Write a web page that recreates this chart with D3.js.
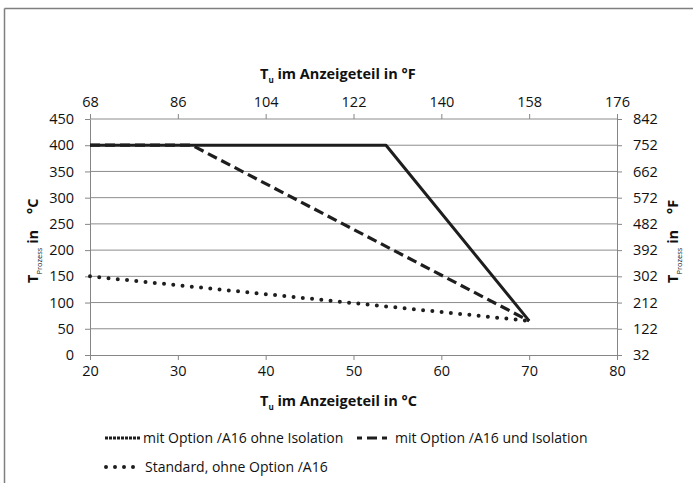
<!DOCTYPE html>
<html><head><meta charset="utf-8">
<script src="https://cdn.jsdelivr.net/npm/d3@7"></script>
<style>
body{margin:0;background:#fff;}
text{font-family:"Open Sans",sans-serif;fill:#111;}
</style></head>
<body><svg id="c" width="693" height="483"></svg>
<script>
// ---- data ----
const xTicksC = [20, 30, 40, 50, 60, 70, 80];
const xTicksF = [68, 86, 104, 122, 140, 158, 176];
const yTicksC = [0, 50, 100, 150, 200, 250, 300, 350, 400, 450];
const yTicksF = [32, 122, 212, 302, 392, 482, 572, 662, 752, 842];
const seriesNames = ["mit Option /A16 ohne Isolation", "mit Option /A16 und Isolation", "Standard, ohne Option /A16"];
const solidX = [20, 53.7, 70];
const solidY = [400, 400, 65];
const dashedX = [20, 31.6, 70];
const dashedY = [400, 400, 65];
const dottedX = [20, 70];
const dottedY = [150, 65];

const svg = d3.select("#c");
const L = 90, R = 617, T = 119, B = 355;
const x = d3.scaleLinear().domain([20, 80]).range([L, R]);
const xF = d3.scaleLinear().domain([68, 176]).range([L, R]);
const y = d3.scaleLinear().domain([0, 450]).range([B, T]);
const yF = d3.scaleLinear().domain([32, 842]).range([B, T]);

// frame
svg.append("line").attr("x1",4.5).attr("x2",693).attr("y1",8.5).attr("y2",8.5).attr("stroke","#7f7f7f").attr("stroke-width",1.5);
svg.append("line").attr("x1",4.5).attr("x2",4.5).attr("y1",8.5).attr("y2",483).attr("stroke","#7f7f7f").attr("stroke-width",1.5);

// gridlines
svg.append("g").selectAll("line").data(yTicksC.slice(1)).join("line")
  .attr("x1",L).attr("x2",R).attr("y1",d=>y(d)).attr("y2",d=>y(d))
  .attr("stroke","#8c8c8c").attr("stroke-width",1);

function styleAxis(g){
  g.select(".domain").attr("stroke","#868686");
  g.selectAll(".tick line").attr("stroke","#868686");
  g.selectAll(".tick text").attr("font-size",14.5).attr("fill","#111").attr("font-family","'Open Sans',sans-serif");
}
svg.append("g").attr("transform",`translate(0,${B})`)
  .call(d3.axisBottom(x).tickValues(xTicksC).tickSize(5).tickSizeOuter(0).tickPadding(6)).call(styleAxis);
svg.append("g").attr("transform",`translate(0,${T})`)
  .call(d3.axisTop(xF).tickValues(xTicksF).tickSize(5).tickSizeOuter(0).tickPadding(7)).call(styleAxis)
  .select(".domain").remove();
svg.append("g").attr("transform",`translate(${L},0)`)
  .call(d3.axisLeft(y).tickValues(yTicksC).tickSize(5).tickSizeOuter(0).tickPadding(11)).call(styleAxis);
svg.append("g").attr("transform",`translate(${R},0)`)
  .call(d3.axisRight(yF).tickValues(yTicksF).tickSize(5).tickSizeOuter(0).tickPadding(11)).call(styleAxis);

// series
const line = d3.line().x(d=>x(d[0])).y(d=>y(d[1]));
const zip = (a,b)=>a.map((v,i)=>[v,b[i]]);
svg.append("path").datum(zip(dottedX,dottedY)).attr("d",line).attr("fill","none")
  .attr("stroke","#1e1e1e").attr("stroke-width",4).attr("stroke-linecap","round").attr("stroke-dasharray","0,9.3");
svg.append("path").datum(zip(dashedX,dashedY)).attr("d",line).attr("fill","none")
  .attr("stroke","#1e1e1e").attr("stroke-width",3.2).attr("stroke-dasharray","10,5");
svg.append("path").datum(zip(solidX,solidY)).attr("d",line).attr("fill","none")
  .attr("stroke","#1e1e1e").attr("stroke-width",3).attr("stroke-linejoin","round");

// axis titles
function tTitle(sel, unitText){
  sel.append("tspan").text("T");
  sel.append("tspan").text("u").attr("font-size",8).attr("dy",4);
  sel.append("tspan").text(" im Anzeigeteil in " + unitText).attr("dy",-4);
}
svg.append("text").attr("x",260).attr("y",79).attr("font-size",14.5).attr("font-weight","bold").call(s=>tTitle(s,"°F"));
svg.append("text").attr("x",260).attr("y",406).attr("font-size",14.5).attr("font-weight","bold").call(s=>tTitle(s,"°C"));

function pTitle(sel, unitText){
  sel.append("tspan").text("T");
  sel.append("tspan").text("Prozess").attr("font-size",7.5).attr("dy",4).attr("font-weight","normal");
  sel.append("tspan").text(" in").attr("dy",-4);
  sel.append("tspan").text(unitText).attr("dx",16);
}
svg.append("text").attr("transform","translate(38,283) rotate(-90)").attr("font-size",14.5).attr("font-weight","bold").call(s=>pTitle(s,"°C"));
svg.append("text").attr("transform","translate(678,283) rotate(-90)").attr("font-size",14.5).attr("font-weight","bold").call(s=>pTitle(s,"°F"));

// legend
const leg = svg.append("g");
const legItems = [
  {name: seriesNames[0], x1:105, x2:140, y:438, dash:"3,1", cap:"butt", w:3.2},
  {name: seriesNames[1], x1:357, x2:392, y:438, dash:"5,5,10,5,5", cap:"butt", w:3.2},
  {name: seriesNames[2], x1:106, x2:142, y:467, dash:"0,9", cap:"round", w:4}
];
legItems.forEach(d=>{
  leg.append("line").attr("x1",d.x1).attr("x2",d.x2).attr("y1",d.y).attr("y2",d.y)
    .attr("stroke","#1e1e1e").attr("stroke-width",d.w).attr("stroke-dasharray",d.dash).attr("stroke-linecap",d.cap);
  leg.append("text").attr("x",d.x2+3).attr("y",d.y+5).attr("font-size",14).text(d.name);
});
</script></body></html>
